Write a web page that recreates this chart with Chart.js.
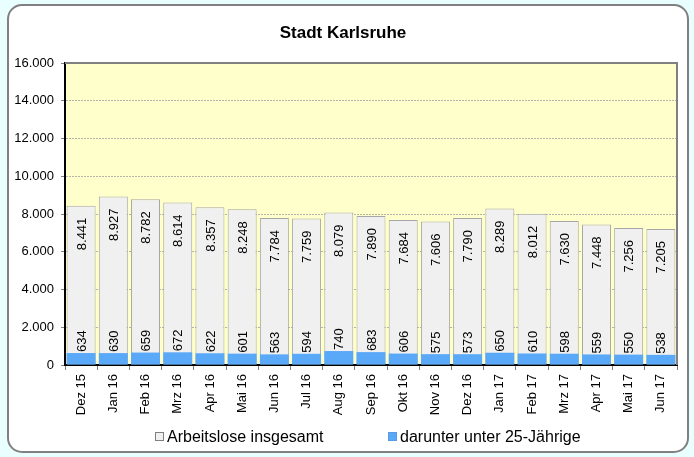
<!DOCTYPE html>
<html lang="de">
<head>
<meta charset="UTF-8" />
<title>Stadt Karlsruhe - Arbeitslose</title>
<script src="https://cdn.jsdelivr.net/npm/chart.js"></script>
<style>
  html, body { margin: 0; padding: 0; background: #e9ffff; }
  #rahmen {
    position: absolute; left: 7px; top: 4px;
    width: 682px; height: 449px; box-sizing: border-box;
    border: 2px solid #808080; border-radius: 15px; background: #ffffff;
  }
  canvas { display: block; }
</style>
</head>
<body>
<div id="rahmen"><canvas id="chart" width="678" height="445"></canvas></div>

<script>
// Monate
const monate = ["Dez 15", "Jan 16", "Feb 16", "Mrz 16", "Apr 16", "Mai 16", "Jun 16", "Jul 16", "Aug 16",
  "Sep 16", "Okt 16", "Nov 16", "Dez 16", "Jan 17", "Feb 17", "Mrz 17", "Apr 17", "Mai 17", "Jun 17"];

// Arbeitslose insgesamt
const insgesamt = [8441, 8927, 8782, 8614, 8357, 8248, 7784, 7759, 8079,
  7890, 7684, 7606, 7790, 8289, 8012, 7630, 7448, 7256, 7205];

// darunter unter 25-Jährige
const unter25 = [634, 630, 659, 672, 622, 601, 563, 594, 740,
  683, 606, 575, 573, 650, 610, 598, 559, 550, 538];

// Y-Achse
const yMin = 0;
const yMax = 16000;
const yStep = 2000;

const schrift = "'Liberation Sans', Arial, sans-serif";

// Zahl mit Tausenderpunkt
function fmt(n) {
  return String(n).replace(/\B(?=(\d{3})+(?!\d))/g, ".");
}

// gelbe Zeichenfläche + Rahmen oben/rechts
const flaeche = {
  id: "flaeche",
  beforeDraw(chart) {
    const { ctx, chartArea: a } = chart;
    ctx.save();
    ctx.fillStyle = "#ffffcc";
    ctx.fillRect(a.left, a.top, a.right - a.left, a.bottom - a.top);
    ctx.restore();
  },
  afterDraw(chart) {
    const { ctx, chartArea: a } = chart;
    ctx.save();
    ctx.strokeStyle = "#808080";
    ctx.lineWidth = 2;
    ctx.beginPath();
    ctx.moveTo(a.left, a.top);
    ctx.lineTo(a.right, a.top);
    ctx.lineTo(a.right, a.bottom);
    ctx.stroke();
    ctx.restore();
  }
};

// senkrechte Werte an den Säulen
const werte = {
  id: "werte",
  afterDatasetsDraw(chart) {
    const ctx = chart.ctx;
    ctx.save();
    ctx.font = "13px " + schrift;
    ctx.fillStyle = "#000";
    ctx.textBaseline = "middle";
    chart.getDatasetMeta(0).data.forEach((bar, i) => {
      ctx.save();
      ctx.translate(bar.x, bar.y + 12);
      ctx.rotate(-Math.PI / 2);
      ctx.textAlign = "right";
      ctx.fillText(fmt(insgesamt[i]), 0, 1);
      ctx.restore();
    });
    chart.getDatasetMeta(1).data.forEach((bar, i) => {
      ctx.save();
      ctx.translate(bar.x, bar.y - 1);
      ctx.rotate(-Math.PI / 2);
      ctx.textAlign = "left";
      ctx.fillText(fmt(unter25[i]), 0, 1);
      ctx.restore();
    });
    ctx.restore();
  }
};

// Legende unten
const legende = {
  id: "legende",
  afterDraw(chart) {
    const ctx = chart.ctx;
    const posX = [146, 379];
    const y = 431;
    ctx.save();
    ctx.font = "16px " + schrift;
    ctx.textBaseline = "middle";
    ctx.textAlign = "left";
    chart.data.datasets.forEach((ds, i) => {
      const x = posX[i];
      ctx.fillStyle = ds.backgroundColor;
      ctx.fillRect(x, y - 5, 9, 9);
      ctx.strokeStyle = ds.legendBorder;
      ctx.lineWidth = 1;
      ctx.strokeRect(x + 0.5, y - 4.5, 8, 8);
      ctx.fillStyle = "#000";
      ctx.fillText(ds.label, x + 12, y + 1);
    });
    ctx.restore();
  }
};

const ctx = document.getElementById("chart").getContext("2d");
new Chart(ctx, {
  type: "bar",
  data: {
    labels: monate,
    datasets: [
      {
        label: "Arbeitslose insgesamt",
        data: insgesamt,
        backgroundColor: "#f0f0f0",
        borderColor: "#a6a6a6",
        legendBorder: "#808080",
        borderWidth: 1,
        order: 2
      },
      {
        label: "darunter unter 25-Jährige",
        data: unter25,
        backgroundColor: "#5aa8f8",
        borderColor: "#7fb8ee",
        legendBorder: "#5a9ae0",
        borderWidth: 0,
        order: 1
      }
    ]
  },
  options: {
    responsive: false,
    animation: false,
    layout: { padding: { left: 0, right: 10, top: 0, bottom: 0 } },
    datasets: {
      bar: { grouped: false, barPercentage: 0.9, categoryPercentage: 1.0 }
    },
    scales: {
      x: {
        grid: {
          display: true,
          drawOnChartArea: false,
          drawTicks: true,
          tickLength: 5,
          tickColor: "#808080",
          offset: true
        },
        border: { color: "#000", width: 2 },
        ticks: {
          autoSkip: false,
          minRotation: 90,
          maxRotation: 90,
          padding: 4,
          color: "#000",
          font: { family: schrift, size: 13 }
        },
        afterFit(scale) { scale.height = 86; }
      },
      y: {
        min: yMin,
        max: yMax,
        grid: {
          color: "#b4b4a8",
          lineWidth: 1,
          tickColor: "#808080",
          tickLength: 4,
          tickBorderDash: []
        },
        border: { color: "#000", width: 2, dash: [2, 1] },
        ticks: {
          stepSize: yStep,
          padding: 7,
          color: "#000",
          font: { family: schrift, size: 13 },
          callback: (v) => fmt(v)
        },
        afterFit(scale) { scale.width = 56; }
      }
    },
    plugins: {
      legend: { display: false },
      tooltip: { enabled: false },
      title: {
        display: true,
        text: "Stadt Karlsruhe",
        color: "#000",
        font: { family: schrift, size: 17, weight: "bold" },
        padding: { top: 17, bottom: 19.6 }
      }
    }
  },
  plugins: [flaeche, werte, legende]
});
</script>
</body>
</html>
